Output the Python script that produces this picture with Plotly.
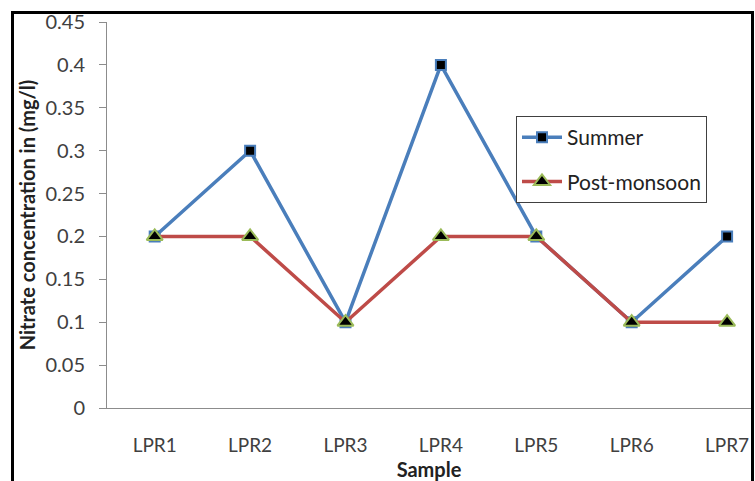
import plotly.graph_objects as go

samples = ["LPR1", "LPR2", "LPR3", "LPR4", "LPR5", "LPR6", "LPR7"]
summer = [0.2, 0.3, 0.1, 0.4, 0.2, 0.1, 0.2]
post_monsoon = [0.2, 0.2, 0.1, 0.2, 0.2, 0.1, 0.1]
y_ticks = [0, 0.05, 0.1, 0.15, 0.2, 0.25, 0.3, 0.35, 0.4, 0.45]
y_tick_text = ["0", "0.05", "0.1", "0.15", "0.2", "0.25", "0.3", "0.35", "0.4", "0.45"]

FONT = "Lato, 'Open Sans', sans-serif"
W, H = 755, 481
L, R, T, B = 107, 4, 22, 73
pw, ph = W - L - R, H - T - B


def px_x(x):
    return (x - L) / pw


def px_y(y):
    return (H - B - y) / ph


fig = go.Figure()
fig.add_trace(go.Scatter(
    x=list(range(len(samples))), y=summer, name="Summer", mode="lines+markers",
    legendgroup="s",
    line=dict(color="#4A7EBB", width=3.5),
    marker=dict(symbol="square", size=10, color="black",
                line=dict(color="#4A7EBB", width=2)),
    cliponaxis=False,
))
fig.add_trace(go.Scatter(
    x=list(range(len(samples))), y=post_monsoon, name="Post-monsoon", mode="lines+markers",
    legendgroup="p",
    line=dict(color="#BE4B48", width=3.5),
    marker=dict(symbol="triangle-up", size=14, color="black",
                line=dict(color="#9BBB59", width=2)),
    cliponaxis=False,
))

fig.update_layout(
    width=W, height=H,
    margin=dict(l=L, r=R, t=T, b=B, pad=0, autoexpand=False),
    paper_bgcolor="white", plot_bgcolor="white",
    font=dict(family=FONT, size=19, color="#404040"),
    showlegend=True,
    legend=dict(
        x=px_x(516), y=px_y(116), xanchor="left", yanchor="top",
        bgcolor="white", bordercolor="#404040", borderwidth=1,
        font=dict(family=FONT, size=21, color="#222222"),
        itemwidth=40, tracegroupgap=14,
    ),
    xaxis=dict(
        range=[-0.5, (W - R - 155) / ((W - R - L) / 6.754)],
        tickmode="array", tickvals=list(range(len(samples))), ticktext=samples,
        showgrid=False, zeroline=False, showline=True, linecolor="#8C8C8C", linewidth=1,
        ticks="", ticklabelstandoff=20, automargin=False,
        tickfont=dict(family=FONT, size=19, color="#404040"),
        title=dict(text="<b>Sample</b>", font=dict(family=FONT, size=20, color="#222222"),
                   standoff=16),
    ),
    yaxis=dict(
        range=[0, 0.45], automargin=False,
        tickmode="array", tickvals=y_ticks, ticktext=y_tick_text,
        showgrid=False, zeroline=False, showline=True, linecolor="#8C8C8C", linewidth=1,
        ticks="outside", ticklen=7, tickcolor="#8C8C8C", ticklabelstandoff=10,
        tickfont=dict(family=FONT, size=20, color="#404040"),
        title=dict(text="<b>Nitrate concentration in (mg/l)</b>",
                   font=dict(family=FONT, size=20, color="#222222"), standoff=4),
    ),
)

# black frame around the chart
frame = dict(type="line", xref="paper", yref="paper", line=dict(color="black", width=3))
fig.add_shape(**frame, x0=px_x(12.5), x1=px_x(12.5), y0=px_y(12), y1=px_y(490))
fig.add_shape(**frame, x0=px_x(11), x1=px_x(754), y0=px_y(12.5), y1=px_y(12.5))
fig.add_shape(**frame, x0=px_x(752.5), x1=px_x(752.5), y0=px_y(12), y1=px_y(490))

fig.write_html("out.html")
